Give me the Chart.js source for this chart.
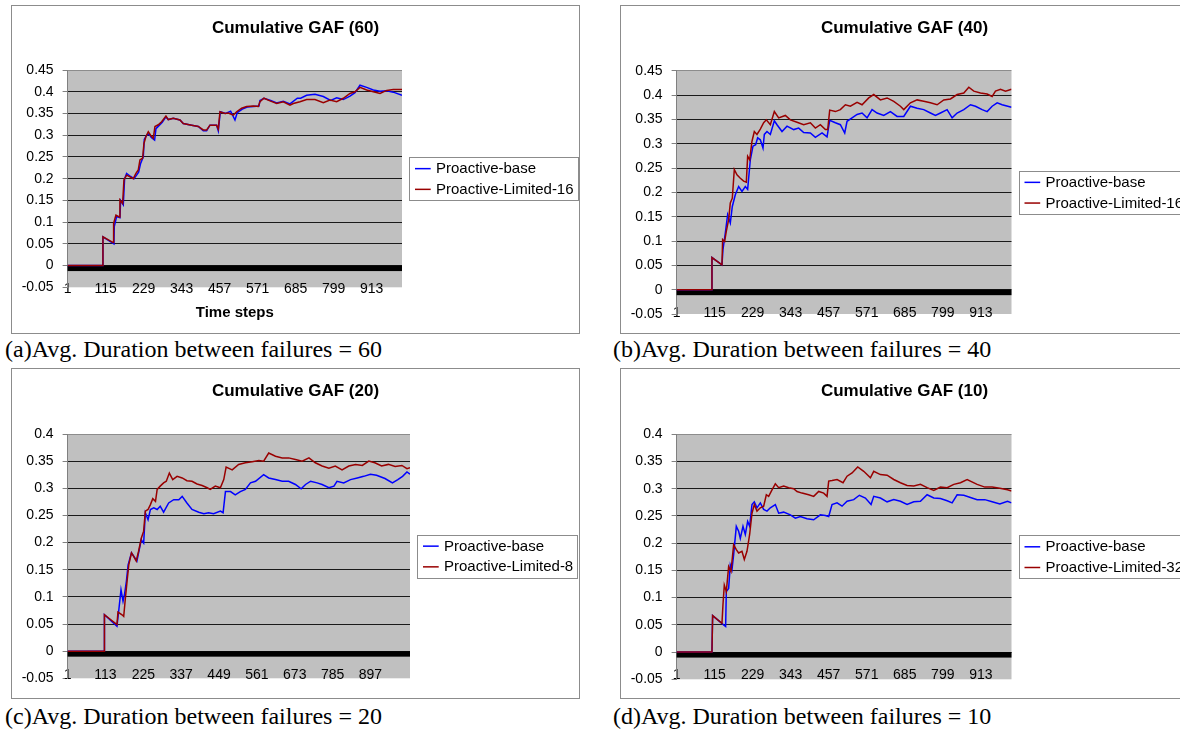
<!DOCTYPE html>
<html>
<head>
<meta charset="utf-8">
<script src="https://cdn.jsdelivr.net/npm/chart.js@4.4.1/dist/chart.umd.min.js"></script>
<style>
html, body { margin: 0; padding: 0; background: #fff; width: 1180px; height: 733px; overflow: hidden; position: relative; }
.panel { position: absolute; border: 1px solid #8c8c8c; background: #fff; }
.panel canvas { display: block; }
.caption { position: absolute; font-family: 'Liberation Serif', 'Times New Roman', serif; font-size: 24px; line-height: 24px; white-space: nowrap; color: #000; }
</style>
</head>
<body>
<div class="panel" style="left:11px;top:5px;width:567px;height:327px"><canvas id="chartA" width="567" height="327"></canvas></div>
<div class="panel" style="left:620px;top:5px;width:567px;height:327px"><canvas id="chartB" width="567" height="327"></canvas></div>
<div class="panel" style="left:11px;top:368px;width:567px;height:329px"><canvas id="chartC" width="567" height="329"></canvas></div>
<div class="panel" style="left:620px;top:368px;width:567px;height:329px"><canvas id="chartD" width="567" height="329"></canvas></div>
<div class="caption" style="left:5px;top:337px">(a)Avg. Duration between failures = 60</div>
<div class="caption" style="left:613px;top:337px">(b)Avg. Duration between failures = 40</div>
<div class="caption" style="left:5px;top:704px">(c)Avg. Duration between failures = 20</div>
<div class="caption" style="left:613px;top:704px">(d)Avg. Duration between failures = 10</div>
<script>
// tick labels
const xTicks114 = [1, 115, 229, 343, 457, 571, 685, 799, 913];
const xTicks112 = [1, 113, 225, 337, 449, 561, 673, 785, 897];
const yTicks45 = [-0.05, 0, 0.05, 0.1, 0.15, 0.2, 0.25, 0.3, 0.35, 0.4, 0.45];
const yTicks40 = [-0.05, 0, 0.05, 0.1, 0.15, 0.2, 0.25, 0.3, 0.35, 0.4];

// (a) failures every 60
const baseStepsA = [1,106,107,140,141,148,158,160,168,172,178,190,200,208,214,220,228,231,238,245,252,262,266,275,285,296,303,318,338,348,373,393,408,418,428,448,453,459,475,490,503,510,525,540,575,578,590,610,628,648,668,690,700,718,743,768,790,808,828,848,863,878,898,918,938,958,978,1004];
const baseValuesA = [0,0,0.066,0.05,0.09,0.113,0.11,0.15,0.14,0.2,0.212,0.205,0.2,0.208,0.215,0.235,0.25,0.29,0.3,0.303,0.295,0.289,0.315,0.322,0.33,0.342,0.336,0.339,0.335,0.327,0.323,0.32,0.31,0.31,0.323,0.323,0.31,0.354,0.35,0.355,0.335,0.352,0.36,0.365,0.367,0.38,0.385,0.38,0.374,0.378,0.372,0.385,0.385,0.392,0.394,0.389,0.38,0.386,0.382,0.39,0.398,0.415,0.41,0.404,0.401,0.402,0.399,0.392];
const limStepsA = [1,106,107,138,139,146,156,158,166,170,178,188,198,206,213,218,226,230,236,243,250,258,263,273,283,296,303,318,338,348,373,393,408,418,428,448,453,458,473,483,498,508,523,538,558,573,578,590,608,628,648,668,678,698,718,743,768,788,808,828,848,863,878,898,918,938,958,978,1004];
const limValuesA = [0,0,0.066,0.053,0.097,0.116,0.112,0.151,0.143,0.197,0.208,0.204,0.2,0.212,0.22,0.243,0.247,0.281,0.297,0.308,0.3,0.293,0.32,0.324,0.331,0.344,0.336,0.339,0.335,0.327,0.323,0.32,0.312,0.312,0.323,0.323,0.314,0.354,0.35,0.351,0.346,0.354,0.362,0.366,0.367,0.366,0.377,0.385,0.379,0.373,0.377,0.369,0.373,0.377,0.382,0.382,0.375,0.381,0.377,0.385,0.396,0.4,0.41,0.404,0.4,0.396,0.403,0.405,0.405];

// (b) failures every 40
const baseStepsB = [1,106,107,137,140,147,154,162,168,177,187,197,207,214,222,230,238,244,252,260,264,272,282,294,302,317,332,352,367,382,402,417,437,452,460,477,492,505,512,527,542,557,572,587,602,622,642,662,682,702,722,742,762,777,792,812,827,842,862,882,897,917,932,947,962,977,1005];
const baseValuesB = [0,0,0.066,0.051,0.082,0.116,0.154,0.137,0.171,0.195,0.212,0.202,0.212,0.206,0.267,0.295,0.298,0.312,0.308,0.291,0.319,0.325,0.319,0.347,0.339,0.325,0.336,0.329,0.332,0.323,0.322,0.313,0.322,0.314,0.348,0.343,0.339,0.322,0.346,0.353,0.36,0.363,0.353,0.37,0.363,0.358,0.366,0.356,0.356,0.377,0.373,0.37,0.363,0.358,0.363,0.37,0.353,0.363,0.37,0.38,0.377,0.37,0.366,0.377,0.384,0.38,0.375];
const limStepsB = [1,106,107,137,139,145,150,157,162,168,174,182,192,202,210,214,220,227,234,242,252,262,270,282,294,307,327,342,362,382,402,417,432,447,454,460,477,492,507,522,542,557,577,592,612,632,652,672,682,702,722,742,762,782,802,822,842,862,877,892,912,932,947,957,972,987,1005];
const limValuesB = [0,0,0.066,0.051,0.103,0.099,0.12,0.144,0.178,0.188,0.247,0.236,0.229,0.223,0.221,0.274,0.267,0.305,0.325,0.319,0.33,0.343,0.349,0.339,0.366,0.353,0.358,0.349,0.344,0.339,0.343,0.332,0.339,0.329,0.329,0.369,0.366,0.37,0.38,0.377,0.385,0.38,0.394,0.401,0.39,0.394,0.387,0.377,0.37,0.384,0.39,0.387,0.384,0.38,0.39,0.392,0.401,0.404,0.416,0.408,0.404,0.402,0.397,0.408,0.412,0.408,0.412];

// (c) failures every 20
const baseStepsC = [1,109,110,147,152,159,165,170,175,180,190,206,219,226,231,239,246,256,266,275,285,300,315,330,340,354,369,389,404,418,433,453,461,468,483,497,512,527,542,557,581,596,616,636,655,675,692,705,720,739,754,774,789,798,818,838,858,877,897,915,940,962,978,992,1005,1014];
const baseValuesC = [0,0,0.067,0.046,0.073,0.113,0.092,0.107,0.129,0.159,0.181,0.166,0.205,0.199,0.255,0.242,0.261,0.264,0.261,0.267,0.256,0.273,0.279,0.279,0.285,0.273,0.261,0.256,0.253,0.255,0.253,0.258,0.255,0.294,0.294,0.288,0.294,0.298,0.31,0.313,0.325,0.319,0.316,0.313,0.313,0.307,0.299,0.307,0.313,0.31,0.307,0.301,0.304,0.313,0.31,0.316,0.319,0.322,0.326,0.324,0.318,0.31,0.316,0.322,0.33,0.326];
const limStepsC = [1,109,110,147,150,162,167,172,177,182,190,196,204,211,219,226,231,239,246,253,261,266,275,285,293,302,312,325,340,354,369,384,399,414,423,438,453,463,470,488,507,527,547,567,581,596,616,636,655,675,695,715,734,754,774,793,813,833,853,873,892,910,930,950,970,990,1005,1014];
const limValuesC = [0,0,0.067,0.049,0.072,0.067,0.064,0.098,0.129,0.159,0.181,0.175,0.166,0.184,0.208,0.221,0.258,0.261,0.27,0.281,0.276,0.298,0.304,0.31,0.313,0.328,0.316,0.322,0.319,0.314,0.313,0.308,0.305,0.301,0.298,0.304,0.301,0.316,0.339,0.334,0.344,0.347,0.349,0.351,0.35,0.365,0.359,0.356,0.356,0.353,0.35,0.356,0.347,0.341,0.337,0.341,0.334,0.341,0.344,0.342,0.35,0.347,0.341,0.344,0.34,0.342,0.336,0.338];

// (d) failures every 10
const baseStepsD = [1,107,109,142,148,150,157,162,167,172,180,187,192,200,207,214,220,227,234,242,252,262,272,282,297,307,322,342,357,372,392,412,432,447,457,467,482,497,512,532,549,567,584,592,612,632,652,672,692,712,732,752,772,792,812,827,842,862,882,902,925,947,970,993,1005];
const baseValuesD = [0,0,0.067,0.05,0.047,0.111,0.117,0.16,0.151,0.179,0.231,0.222,0.209,0.231,0.216,0.24,0.231,0.271,0.276,0.265,0.274,0.262,0.259,0.265,0.271,0.255,0.257,0.252,0.246,0.249,0.245,0.243,0.252,0.251,0.249,0.271,0.274,0.268,0.277,0.28,0.288,0.283,0.271,0.286,0.283,0.276,0.28,0.277,0.271,0.276,0.277,0.289,0.283,0.282,0.278,0.274,0.289,0.288,0.284,0.28,0.28,0.276,0.272,0.277,0.274];
const limStepsD = [1,107,109,137,140,144,150,157,164,172,180,187,197,204,212,220,227,234,242,252,262,270,277,287,297,307,322,337,352,362,377,397,412,427,442,452,457,467,482,500,512,527,544,562,582,592,612,632,652,672,692,712,732,752,772,792,812,832,852,872,902,925,947,970,993,1005];
const limValuesD = [0,0,0.067,0.053,0.087,0.123,0.111,0.157,0.148,0.197,0.188,0.182,0.185,0.17,0.185,0.216,0.255,0.271,0.259,0.265,0.268,0.289,0.286,0.298,0.309,0.302,0.305,0.302,0.3,0.295,0.292,0.289,0.286,0.295,0.292,0.286,0.314,0.315,0.317,0.311,0.323,0.329,0.34,0.332,0.32,0.332,0.326,0.325,0.317,0.311,0.306,0.305,0.308,0.302,0.297,0.303,0.302,0.308,0.311,0.317,0.308,0.303,0.303,0.301,0.298,0.296];

const FONT = "'Liberation Sans', Arial, sans-serif";
Chart.defaults.font.family = FONT;
Chart.defaults.color = '#000000';

const points = (steps, values) => steps.map((x, i) => ({ x: x, y: values[i] }));

// grey plot area like the old excel charts
const plotBackground = {
    id: 'plotBackground',
    beforeDraw(chart) {
        const { ctx, chartArea } = chart;
        ctx.save();
        ctx.fillStyle = '#c0c0c0';
        ctx.fillRect(chartArea.left, chartArea.top, chartArea.width, chartArea.height);
        ctx.restore();
    }
};

// thick category axis sitting on y = 0
const zeroAxisBand = {
    id: 'zeroAxisBand',
    beforeDatasetsDraw(chart) {
        const { ctx, chartArea } = chart;
        const y0 = chart.scales.y.getPixelForValue(0);
        ctx.save();
        ctx.fillStyle = '#000000';
        ctx.fillRect(chartArea.left, y0, chartArea.width, 5.5);
        ctx.restore();
    }
};

// title centred on the whole chart box (the built-in one centres left of the legend space)
const boxTitle = {
    id: 'boxTitle',
    afterDraw(chart, args, opts) {
        const { ctx } = chart;
        ctx.save();
        ctx.font = 'bold 17px ' + FONT;
        ctx.fillStyle = '#000000';
        ctx.textAlign = 'center';
        ctx.textBaseline = 'middle';
        ctx.fillText(opts.text, chart.width / 2, 22);
        ctx.restore();
    }
};

// legend in a framed box to the right of the plot
const boxLegend = {
    id: 'boxLegend',
    afterDraw(chart) {
        const { ctx, chartArea } = chart;
        const datasets = chart.data.datasets;
        ctx.save();
        ctx.font = '15px ' + FONT;
        const textWidth = Math.max(...datasets.map(ds => ctx.measureText(ds.label).width));
        const w = 26.7 + textWidth + 4.3;
        const h = 43;
        const x = chartArea.right + 7.3;
        const y = (chartArea.top + chartArea.bottom) / 2 - h / 2;
        ctx.fillStyle = '#ffffff';
        ctx.fillRect(x, y, w, h);
        ctx.strokeStyle = '#8c8c8c';
        ctx.lineWidth = 1;
        ctx.strokeRect(Math.round(x) + 0.5, Math.round(y) + 0.5, Math.round(w), Math.round(h));
        datasets.forEach((ds, i) => {
            const cy = y + 11.5 + i * 20.7;
            ctx.strokeStyle = ds.borderColor;
            ctx.lineWidth = 1.5;
            ctx.beginPath();
            ctx.moveTo(x + 5.7, cy);
            ctx.lineTo(x + 21.4, cy);
            ctx.stroke();
            ctx.fillStyle = '#000000';
            ctx.textBaseline = 'middle';
            ctx.textAlign = 'left';
            ctx.fillText(ds.label, x + 26.7, cy + 0.5);
        });
        ctx.restore();
    }
};

function drawPanel(p) {
    const yMax = p.yTicks[p.yTicks.length - 1];
    new Chart(document.getElementById(p.id), {
        type: 'line',
        data: {
            datasets: [{
                label: 'Proactive-base',
                data: points(p.baseSteps, p.baseValues),
                borderColor: '#0000ff',
                order: 1
            }, {
                label: p.limitedLabel,
                data: points(p.limSteps, p.limValues),
                borderColor: '#990000',
                order: 0
            }]
        },
        options: {
            responsive: false,
            animation: false,
            events: [],
            elements: {
                line: { borderWidth: 1.5, tension: 0, fill: false },
                point: { radius: 0 }
            },
            layout: { padding: { top: p.plotTop, left: 0, bottom: 0, right: p.rightPad } },
            plugins: {
                legend: { display: false },
                tooltip: { enabled: false },
                title: { display: false },
                boxTitle: { text: p.title }
            },
            scales: {
                x: {
                    type: 'linear',
                    min: 1,
                    max: p.xMax,
                    afterBuildTicks: s => { s.ticks = p.xTicks.map(v => ({ value: v })); },
                    afterFit: s => { s.height = p.xHeight; },
                    grid: { display: false, drawTicks: false },
                    border: { display: false },
                    ticks: {
                        autoSkip: false,
                        maxRotation: 0,
                        mirror: true,
                        padding: p.xLabelPad,
                        font: { size: 14 },
                        callback: v => String(v)
                    },
                    title: {
                        display: !!p.xTitle,
                        text: p.xTitle || '',
                        font: { family: FONT, size: 15, weight: 'bold' },
                        padding: { top: 0, bottom: 10.7 }
                    }
                },
                y: {
                    min: -0.05,
                    max: yMax,
                    afterBuildTicks: s => { s.ticks = p.yTicks.map(v => ({ value: v })); },
                    afterFit: s => { s.width = 55.6; },
                    grid: {
                        color: c => {
                            const v = c.tick ? c.tick.value : 0;
                            if (v === -0.05) return 'rgba(0,0,0,0)';
                            if (v === yMax) return '#8c8c8c';
                            return '#1a1a1a';
                        },
                        lineWidth: 1,
                        tickColor: '#808080',
                        tickLength: 5
                    },
                    border: { display: true, color: '#808080', width: 1 },
                    ticks: {
                        padding: 9,
                        font: { size: 14 },
                        callback: v => String(Number(v.toFixed(2)))
                    }
                }
            }
        },
        plugins: [plotBackground, zeroAxisBand, boxTitle, boxLegend]
    });
}

drawPanel({
    id: 'chartA', title: 'Cumulative GAF (60)', limitedLabel: 'Proactive-Limited-16',
    baseSteps: baseStepsA, baseValues: baseValuesA, limSteps: limStepsA, limValues: limValuesA,
    xMax: 1004, xTicks: xTicks114, yTicks: yTicks45, xTitle: 'Time steps',
    rightPad: 177, plotTop: 64, xHeight: 45.7, xLabelPad: -10.6
});
drawPanel({
    id: 'chartB', title: 'Cumulative GAF (40)', limitedLabel: 'Proactive-Limited-16',
    baseSteps: baseStepsB, baseValues: baseValuesB, limSteps: limStepsB, limValues: limValuesB,
    xMax: 1005, xTicks: xTicks114, yTicks: yTicks45,
    rightPad: 176.5, plotTop: 64.7, xHeight: 19, xLabelPad: -7.7
});
drawPanel({
    id: 'chartC', title: 'Cumulative GAF (20)', limitedLabel: 'Proactive-Limited-8',
    baseSteps: baseStepsC, baseValues: baseValuesC, limSteps: limStepsC, limValues: limValuesC,
    xMax: 1014, xTicks: xTicks112, yTicks: yTicks40,
    rightPad: 169, plotTop: 65, xHeight: 19.7, xLabelPad: -4.9
});
drawPanel({
    id: 'chartD', title: 'Cumulative GAF (10)', limitedLabel: 'Proactive-Limited-32',
    baseSteps: baseStepsD, baseValues: baseValuesD, limSteps: limStepsD, limValues: limValuesD,
    xMax: 1005, xTicks: xTicks114, yTicks: yTicks40,
    rightPad: 176.5, plotTop: 65.3, xHeight: 18.7, xLabelPad: -3.9
});
</script>
</body>
</html>
